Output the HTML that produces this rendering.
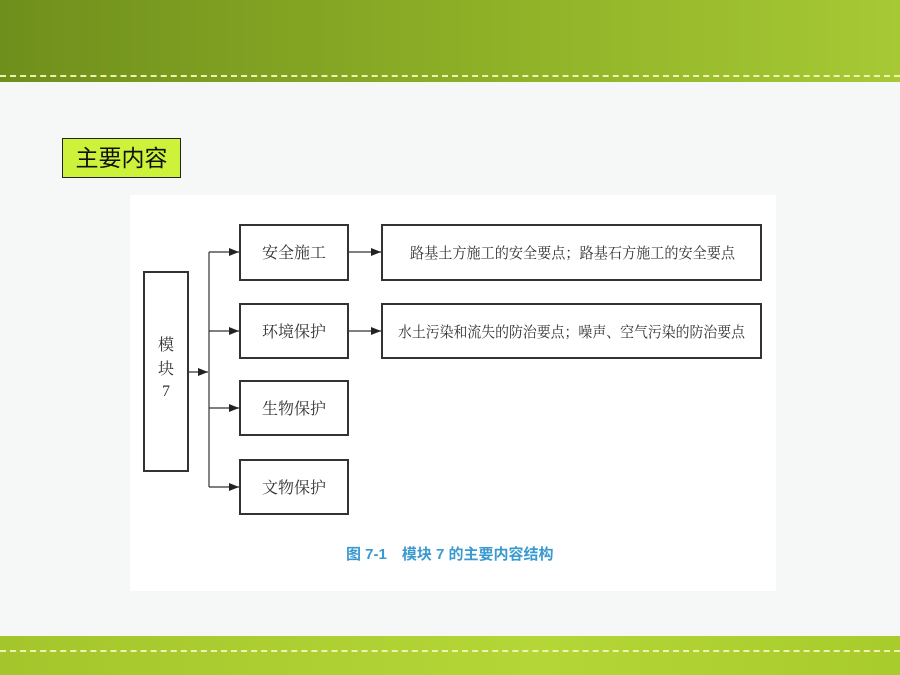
<!DOCTYPE html>
<html><head><meta charset="utf-8"><style>
body{margin:0;width:900px;height:675px;overflow:hidden;background:#f6f7f7;position:relative;font-family:"Liberation Serif","Noto Serif CJK SC",serif}
.top{position:absolute;left:0;top:0;width:900px;height:82px;background:linear-gradient(90deg,#6f8f1c,#8cae26 50%,#a6c934);}
.top:after{content:"";position:absolute;left:0;right:0;top:75px;border-top:2px dashed #f2f0b0;}
.bot{position:absolute;left:0;top:636px;width:900px;height:39px;background:linear-gradient(90deg,#a4c62c,#b4d636 60%,#a8cc2c);}
.bot:after{content:"";position:absolute;left:0;right:0;top:14px;border-top:2px dashed #f2f0b0;}
.title{position:absolute;left:62px;top:138px;width:117px;height:38px;background:#ccf23a;border:1px solid #222;font:23px "Liberation Sans","Noto Sans CJK SC",sans-serif;line-height:38px;text-align:center;color:#111}
.panel{position:absolute;left:130px;top:195px;width:646px;height:396px;background:#fff}
</style></head><body>
<div class="top"></div><div class="bot"></div>
<div class="title">主要内容</div>
<div class="panel"></div>
<svg style="position:absolute;left:0;top:0" width="900" height="675">
<defs><marker id="a" markerWidth="10" markerHeight="8" refX="10" refY="4" orient="auto" markerUnits="userSpaceOnUse"><path d="M0,0L10,4L0,8z" fill="#222"/></marker></defs>
<g fill="none" stroke="#333" stroke-width="2">
<rect x="144" y="272" width="44" height="199"/>
<rect x="240" y="225" width="108" height="55"/>
<rect x="240" y="304" width="108" height="54"/>
<rect x="240" y="381" width="108" height="54"/>
<rect x="240" y="460" width="108" height="54"/>
<rect x="382" y="225" width="379" height="55"/>
<rect x="382" y="304" width="379" height="54"/>
</g>
<g stroke="#333" stroke-width="1.2" fill="none">
<line x1="209" y1="252" x2="209" y2="487"/>
<line x1="188" y1="372" x2="208" y2="372" marker-end="url(#a)"/>
<line x1="209" y1="252" x2="239" y2="252" marker-end="url(#a)"/>
<line x1="209" y1="331" x2="239" y2="331" marker-end="url(#a)"/>
<line x1="209" y1="408" x2="239" y2="408" marker-end="url(#a)"/>
<line x1="209" y1="487" x2="239" y2="487" marker-end="url(#a)"/>
<line x1="348" y1="252" x2="381" y2="252" marker-end="url(#a)"/>
<line x1="348" y1="331" x2="381" y2="331" marker-end="url(#a)"/>
</g>
<g font-size="16" fill="#333" text-anchor="middle" font-family="Liberation Serif,Noto Serif CJK SC,serif">
<text x="166" y="350">模</text><text x="166" y="374">块</text><text x="166" y="396">7</text>
<text x="294" y="258">安全施工</text>
<text x="294" y="337">环境保护</text>
<text x="294" y="414">生物保护</text>
<text x="294" y="493">文物保护</text>
</g>
<g font-size="15" fill="#333" font-family="Liberation Serif,Noto Serif CJK SC,serif">
<text x="410" y="258" textLength="325" lengthAdjust="spacingAndGlyphs">路基土方施工的安全要点；路基石方施工的安全要点</text>
<text x="398" y="337" textLength="347" lengthAdjust="spacingAndGlyphs">水土污染和流失的防治要点；噪声、空气污染的防治要点</text>
</g>
<text x="346" y="559" font-size="15" font-weight="bold" fill="#3a9ad0" font-family="Liberation Sans,Noto Sans CJK SC,sans-serif">图 7-1　模块 7 的主要内容结构</text>
</svg>
</body></html>
